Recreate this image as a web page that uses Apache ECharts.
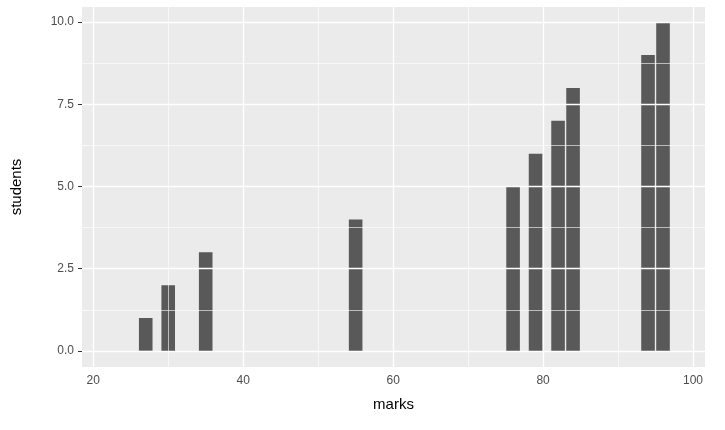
<!DOCTYPE html>
<html>
<head>
<meta charset="utf-8">
<script src="https://cdn.jsdelivr.net/npm/echarts@6/dist/echarts.min.js"></script>
<style>html,body{margin:0;padding:0;background:#fff}#chart-container{width:725px;height:430px}</style>
</head>
<body>
<div id="chart-container"></div>
<script>
var marks = [27, 30, 35, 55, 76, 79, 82, 84, 94, 96];
var students = [1, 2, 3, 4, 5, 6, 7, 8, 9, 10];
var xTicks = [20, 40, 60, 80, 100];
var xMinor = [30, 50, 70, 90];
var yTicks = [0, 2.5, 5, 7.5, 10];
var yMinor = [1.25, 3.75, 6.25, 8.75];

var myChart = echarts.init(document.getElementById('chart-container'), null, { renderer: 'canvas' });

function lines(vals, dim, w) {
  return vals.map(function (v) {
    var o = { lineStyle: { color: '#fff', width: w, type: 'solid' } };
    o[dim] = v;
    return o;
  });
}

var option = {
  animation: false,
  grid: { left: 82, right: 20, top: 7, bottom: 63, show: true, backgroundColor: '#EBEBEB', borderWidth: 0 },
  xAxis: {
    type: 'value', min: 18.5, max: 101.6,
    name: 'marks', nameLocation: 'middle', nameGap: 30,
    nameTextStyle: { color: '#000', fontSize: 15, fontFamily: 'Liberation Sans' },
    axisLine: { show: false },
    axisTick: { show: true, length: 4, lineStyle: { color: '#333' }, customValues: xTicks },
    axisLabel: { color: '#4D4D4D', fontSize: 12, fontFamily: 'Liberation Sans', customValues: xTicks },
    splitLine: { show: false }
  },
  yAxis: {
    type: 'value', min: -0.49, max: 10.46,
    name: 'students', nameLocation: 'middle', nameGap: 58,
    nameTextStyle: { color: '#000', fontSize: 15, fontFamily: 'Liberation Sans' },
    axisLine: { show: false },
    axisTick: { show: true, length: 4, lineStyle: { color: '#333' }, customValues: yTicks },
    axisLabel: { color: '#4D4D4D', fontSize: 12, fontFamily: 'Liberation Sans', customValues: yTicks,
      formatter: function (v) { return v.toFixed(1); } },
    splitLine: { show: false }
  },
  series: [
    {
      type: 'line', data: [], silent: true,
      markLine: {
        symbol: 'none', silent: true, label: { show: false }, animation: false,
        data: lines(xMinor, 'xAxis', 0.6).concat(lines(yMinor, 'yAxis', 0.6))
          .concat(lines(xTicks, 'xAxis', 1.3)).concat(lines(yTicks, 'yAxis', 1.3))
      }
    },
    {
      type: 'bar', barWidth: 13.6, z: 3,
      itemStyle: { color: '#595959' },
      data: marks.map(function (m, i) { return [m, students[i]]; })
    }
  ]
};
myChart.setOption(option);
</script>
</body>
</html>
